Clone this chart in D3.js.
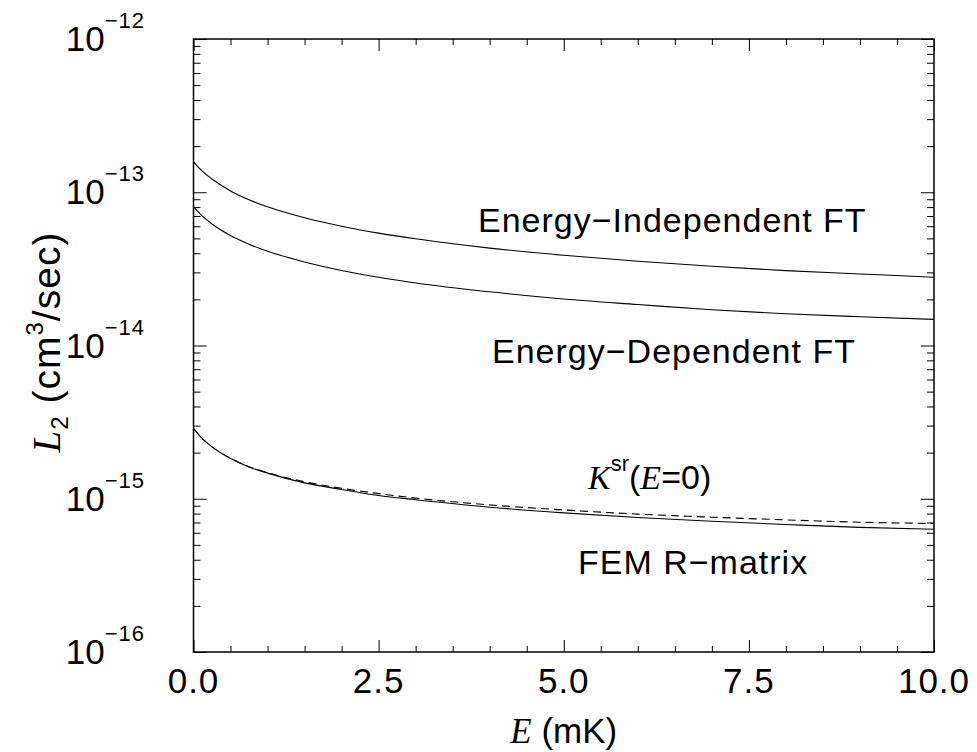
<!DOCTYPE html>
<html>
<head>
<meta charset="utf-8">
<script src="https://cdn.jsdelivr.net/npm/d3@7"></script>
<style>
  body { margin: 0; background: #fff; }
  text { font-family: "Liberation Sans", Arial, Helvetica, sans-serif; fill: #000; }
  .serif { font-family: "Liberation Serif", "Times New Roman", serif; font-style: italic; }
</style>
</head>
<body>
<svg id="chart" width="977" height="752"></svg>
<script>
// energies (mK) where the rates were sampled
var energy = [0, 0.1, 0.25, 0.5, 0.75, 1, 1.5, 2, 2.5, 3, 4, 5, 6, 7, 8, 9, 10];

// L2 rates in cm^3/sec
var indepFT = [1.58e-13, 1.40e-13, 1.22e-13, 1.02e-13, 8.93e-14, 8.03e-14, 6.81e-14, 6.00e-14, 5.41e-14, 4.97e-14,
               4.32e-14, 3.88e-14, 3.55e-14, 3.29e-14, 3.08e-14, 2.93e-14, 2.79e-14];
var depFT   = [8.05e-14, 7.14e-14, 6.21e-14, 5.22e-14, 4.58e-14, 4.12e-14, 3.51e-14, 3.09e-14, 2.79e-14, 2.56e-14,
               2.24e-14, 2.01e-14, 1.85e-14, 1.71e-14, 1.61e-14, 1.54e-14, 1.48e-14];
var femR    = [2.88e-15, 2.52e-15, 2.18e-15, 1.83e-15, 1.61e-15, 1.47e-15, 1.27e-15, 1.15e-15, 1.05e-15, 9.86e-16,
               8.81e-16, 8.09e-16, 7.54e-16, 7.13e-16, 6.79e-16, 6.50e-16, 6.32e-16];
var kSr0    = [2.88e-15, 2.52e-15, 2.18e-15, 1.84e-15, 1.62e-15, 1.48e-15, 1.29e-15, 1.17e-15, 1.08e-15, 1.01e-15,
               9.12e-16, 8.45e-16, 7.94e-16, 7.58e-16, 7.28e-16, 7.03e-16, 6.90e-16];

var xMajor = [0, 2.5, 5, 7.5, 10];
var xMinor = d3.range(0, 10.01, 0.5).filter(function(d) { return d % 2.5 !== 0; });
var yExp = [-16, -15, -14, -13, -12];

var pLeft = 193.5, pRight = 934, pTop = 39, pBottom = 652;

var svg = d3.select("#chart");

var x = d3.scaleLinear().domain([0, 10]).range([pLeft, pRight]);
var y = d3.scaleLog().domain([1e-16, 1e-12]).range([pBottom, pTop]);

var yMajor = yExp.map(function(e) { return Math.pow(10, e); });
var yMinor = [];
yExp.slice(0, -1).forEach(function(e) {
    for (var k = 2; k <= 9; k++) yMinor.push(k * Math.pow(10, e));
});

// ticks on all four sides, pointing inward
function tickSet(axis, pos, values, size) {
    var g = svg.append("g")
        .attr("transform", pos)
        .call(axis.tickValues(values).tickSize(-size).tickFormat(""));
    g.select(".domain").remove();
    g.selectAll(".tick line").attr("stroke", "#000").attr("stroke-width", 1);
    g.selectAll(".tick text").remove();
}

tickSet(d3.axisBottom(x), "translate(0," + pBottom + ")", xMajor, 12);
tickSet(d3.axisBottom(x), "translate(0," + pBottom + ")", xMinor, 6);
tickSet(d3.axisTop(x), "translate(0," + pTop + ")", xMajor, 12);
tickSet(d3.axisTop(x), "translate(0," + pTop + ")", xMinor, 6);
tickSet(d3.axisLeft(y), "translate(" + pLeft + ",0)", yMajor, 13);
tickSet(d3.axisLeft(y), "translate(" + pLeft + ",0)", yMinor, 7);
tickSet(d3.axisRight(y), "translate(" + pRight + ",0)", yMajor, 13);
tickSet(d3.axisRight(y), "translate(" + pRight + ",0)", yMinor, 7);

svg.append("rect")
    .attr("x", pLeft).attr("y", pTop)
    .attr("width", pRight - pLeft).attr("height", pBottom - pTop)
    .attr("fill", "none").attr("stroke", "#000").attr("stroke-width", 1.5);

// x tick labels
svg.selectAll(".xlab").data(xMajor).enter().append("text")
    .attr("class", "xlab")
    .attr("x", function(d) { return x(d); })
    .attr("y", pBottom + 41)
    .attr("text-anchor", "middle")
    .style("font-size", "35px")
    .style("letter-spacing", "1px")
    .text(function(d) { return d.toFixed(1); });

// y tick labels 10^n
var ylab = svg.selectAll(".ylab").data(yExp).enter().append("text")
    .attr("class", "ylab")
    .attr("x", 145)
    .attr("y", function(d) { return y(Math.pow(10, d)) + 12; })
    .attr("text-anchor", "end")
    .style("font-size", "35px");
ylab.append("tspan").text("10");
ylab.append("tspan").attr("dy", -23).style("font-size", "22px").style("letter-spacing", "1px")
    .text(function(d) { return "\u2212" + Math.abs(d); });

// axis titles
var xt = svg.append("text")
    .attr("x", (pLeft + pRight) / 2).attr("y", 743)
    .attr("text-anchor", "middle")
    .style("font-size", "35px");
xt.append("tspan").attr("class", "serif").text("E");
xt.append("tspan").text(" (mK)");

var yt = svg.append("text")
    .attr("transform", "translate(60,342) rotate(-90)")
    .attr("text-anchor", "middle")
    .style("font-size", "39px")
    .style("letter-spacing", "1px");
yt.append("tspan").attr("class", "serif").text("L");
yt.append("tspan").attr("dy", 8).style("font-size", "24px").text("2");
yt.append("tspan").attr("dy", -8).text(" (cm");
yt.append("tspan").attr("dy", -17).style("font-size", "24px").text("3");
yt.append("tspan").attr("dy", 17).text("/sec)");

// curves
var line = function(vals) {
    return d3.line()
        .x(function(d, i) { return x(energy[i]); })
        .y(function(d) { return y(d); })
        .curve(d3.curveMonotoneX)(vals);
};

[indepFT, depFT, femR].forEach(function(vals) {
    svg.append("path")
        .attr("d", line(vals))
        .attr("fill", "none").attr("stroke", "#000").attr("stroke-width", 1.1);
});
svg.append("path")
    .attr("d", line(kSr0))
    .attr("fill", "none").attr("stroke", "#000").attr("stroke-width", 1.1)
    .attr("stroke-dasharray", "8,5");

// curve labels
function label(tx, ty, str) {
    return svg.append("text").attr("x", tx).attr("y", ty)
        .style("font-size", "34px").style("letter-spacing", "1px").text(str);
}
label(478, 232, "Energy\u2212Independent FT");
label(492, 363, "Energy\u2212Dependent FT");
label(578, 574, "FEM R\u2212matrix");

var kl = svg.append("text").attr("x", 588).attr("y", 489).style("font-size", "34px");
kl.append("tspan").attr("class", "serif").text("K");
kl.append("tspan").attr("dy", -18).style("font-size", "22px").text("sr");
kl.append("tspan").attr("dy", 18).text("(");
kl.append("tspan").attr("class", "serif").text("E");
kl.append("tspan").text("=0)");
</script>
</body>
</html>
